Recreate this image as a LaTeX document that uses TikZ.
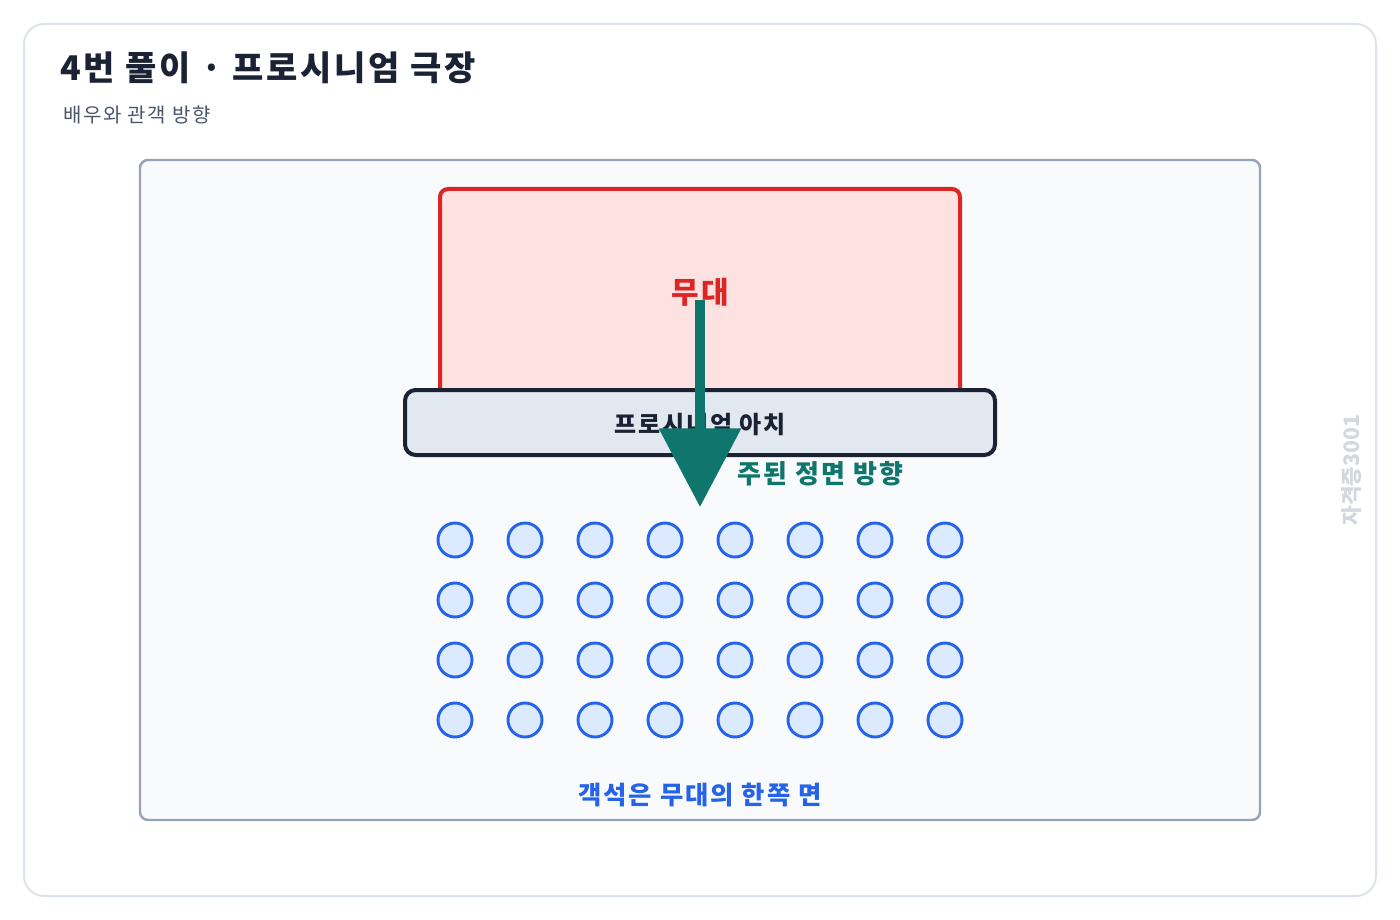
\documentclass[tikz,border=0pt]{standalone}
\usepackage{fontspec}
\setmainfont[LetterSpace=8]{Noto Sans CJK KR}
\newfontfamily\stampfont{Noto Sans CJK KR}
\usetikzlibrary{arrows.meta}

\definecolor{ink}{HTML}{1A2233}
\definecolor{subgray}{HTML}{4A5568}
\definecolor{cardline}{HTML}{DDE3EA}
\definecolor{panelfill}{HTML}{F8FAFC}
\definecolor{panelline}{HTML}{94A3B8}
\definecolor{stagered}{HTML}{DC2626}
\definecolor{stagefill}{HTML}{FEE2E2}
\definecolor{archfill}{HTML}{E2E8F0}
\definecolor{facegreen}{HTML}{0F766E}
\definecolor{seatblue}{HTML}{2563EB}
\definecolor{seatfill}{HTML}{DBEAFE}
\definecolor{stampgray}{HTML}{D3D8DF}

\begin{document}
\begin{tikzpicture}
    [ x=0.75pt, y=-0.75pt,
      card/.style={draw=cardline, line width=1.5pt, fill=white, rounded corners=15pt},
      panel/.style={draw=panelline, line width=1.8pt, fill=panelfill, rounded corners=6pt},
      stage/.style={draw=stagered, line width=3pt, fill=stagefill, rounded corners=6pt},
      arch/.style={draw=ink, line width=3pt, fill=archfill, rounded corners=8pt},
      seat/.style={circle, draw=seatblue, fill=seatfill, line width=2.2pt, minimum size=25.5pt, inner sep=0pt},
      facing/.style={facegreen, line width=7.5pt, -{Triangle[width=60pt, length=59pt]}},
      label/.style={inner sep=0pt, font=\bfseries}]

  \useasboundingbox (0,0) rectangle (1400,920);

%%%%%%%%%%%%%%%%%%%%%%%%%%%%%%%%%%%%%%%%%%%%%%%%%%%%%%%%%%%%%%%%%%%%%%%%%%%%%%%%%%%%%%%%%%%%%%%%%%%%%%%%%%
%card and headings
	  \draw[card] (24,24) rectangle (1376,896);
	  \node[label, anchor=west, ink, font=\fontsize{25.5pt}{28pt}\bfseries] (title) at (60,68) {4번 풀이 · 프로시니엄 극장};
	  \node[inner sep=0pt, anchor=west, subgray, font=\fontsize{15pt}{18pt}\selectfont] (subtitle) at (63,115) {배우와 관객 방향};
	  \node[inner sep=0pt, stampgray, rotate=90, font=\stampfont\fontsize{16pt}{18pt}\bfseries] (stamp) at (1352,470) {자격증3001};

%%%%%%%%%%%%%%%%%%%%%%%%%%%%%%%%%%%%%%%%%%%%%%%%%%%%%%%%%%%%%%%%%%%%%%%%%%%%%%%%%%%%%%%%%%%%%%%%%%%%%%%%%%
%theatre plan
	  \draw[panel] (140,160) rectangle (1260,820);
	  \draw[stage] (440,189) rectangle (960,420);
	  \node[label, stagered, font=\fontsize{22.5pt}{26pt}\bfseries] (stagename) at (700,292) {무대};
	  \draw[arch] (405,390) rectangle (995,455);
	  \node[label, ink, font=\fontsize{18pt}{21pt}\bfseries] (archname) at (700,425) {프로시니엄 아치};

	  % main facing direction
	  \coordinate (facestart) at (700,300);
	  \coordinate (facetip) at (700,507);
	  \draw[facing] (facestart) -- (facetip);
	  \node[label, anchor=west, facegreen, font=\fontsize{19.5pt}{22pt}\bfseries] (facename) at (737,474) {주된 정면 방향};

	  % audience seats
	  \foreach \row in {0,...,3}
	    \foreach \col in {0,...,7}
	      \node[seat] (seat-\row-\col) at (455+70*\col, 540+60*\row) {};

	  \node[label, seatblue, font=\fontsize{19pt}{22pt}\bfseries] (seatname) at (700,795) {객석은 무대의 한쪽 면};

\end{tikzpicture}
\end{document}
